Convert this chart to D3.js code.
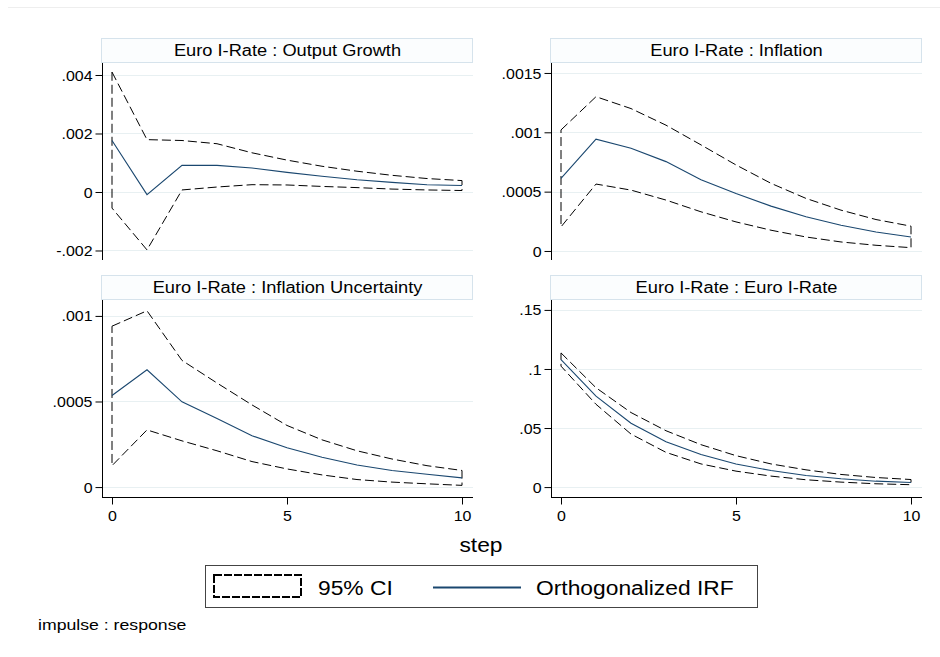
<!DOCTYPE html>
<html><head><meta charset="utf-8">
<script src="https://cdn.jsdelivr.net/npm/d3@7"></script>
<style>body{margin:0;background:#fff}svg{display:block;font-family:"Liberation Sans",Arial,sans-serif}</style>
</head><body><div id="chart"></div>
<script>
const steps = [0,1,2,3,4,5,6,7,8,9,10];
const xTicks = [0,5,10];

const titles = ["Euro I-Rate : Output Growth","Euro I-Rate : Inflation","Euro I-Rate : Inflation Uncertainty","Euro I-Rate : Euro I-Rate"];

const irfOutput = [0.00176,-0.00009,0.00091,0.00091,0.00082,0.00067,0.00054,0.00042,0.00033,0.00025,0.00022];
const upOutput  = [0.0041,0.00179,0.00176,0.00165,0.00134,0.00109,0.00088,0.00071,0.00057,0.00046,0.00039];
const loOutput  = [-0.00055,-0.00198,0.00007,0.00017,0.00025,0.00024,0.00019,0.00015,0.00010,0.00007,0.00005];

const irfInfl = [0.000612,0.000942,0.000866,0.000753,0.0006,0.000485,0.000378,0.000288,0.000217,0.00016,0.000118];
const upInfl  = [0.00102,0.0013,0.0012,0.00106,0.000894,0.000725,0.00057,0.000443,0.000344,0.000265,0.000209];
const loInfl  = [0.000203,0.000564,0.000513,0.000429,0.00033,0.000245,0.000175,0.000118,0.000076,0.000048,0.000028];

const irfUnc = [0.000535,0.000685,0.000498,0.0004,0.0003,0.00023,0.000174,0.000129,0.000097,0.000075,0.000054];
const upUnc  = [0.00094,0.00103,0.00074,0.000608,0.00048,0.00036,0.000276,0.000212,0.000164,0.000125,0.000097];
const loUnc  = [0.000125,0.000334,0.00027,0.000212,0.000149,0.000106,0.000071,0.000044,0.000029,0.000019,0.00001];

const irfRate = [0.108,0.077,0.054,0.0384,0.0275,0.0196,0.014,0.0098,0.007,0.005,0.0039];
const upRate  = [0.1136,0.0841,0.0631,0.0477,0.0359,0.0266,0.0196,0.0146,0.0107,0.0081,0.0064];
const loRate  = [0.1024,0.0701,0.0449,0.0294,0.0196,0.0135,0.0093,0.0062,0.0042,0.0028,0.002];

const yTicksOutput = [-0.002,0,0.002,0.004];
const yLabelsOutput = ["-.002","0",".002",".004"];
const yTicksInfl = [0,0.0005,0.001,0.0015];
const yLabelsInfl = ["0",".0005",".001",".0015"];
const yTicksUnc = [0,0.0005,0.001];
const yLabelsUnc = ["0",".0005",".001"];
const yTicksRate = [0,0.05,0.1,0.15];
const yLabelsRate = ["0",".05",".1",".15"];

const legendLabels = ["95% CI","Orthogonalized IRF"];
const xTitle = "step";
const note = "impulse : response";

const W = 940, H = 657;
const FONT = "Liberation Sans, Arial, sans-serif";
const svg = d3.select("#chart").append("svg").attr("width",W).attr("height",H);
svg.append("rect").attr("width",W).attr("height",H).attr("fill","#fff");
svg.append("line").attr("x1",8).attr("x2",W).attr("y1",7.5).attr("y2",7.5).attr("stroke","#eeeeee");

// horizontally widen text (reference glyphs are wider than Arial at same height)
function stretch(sel, f) {
  sel.each(function() {
    const len = this.getComputedTextLength();
    d3.select(this).attr("textLength", len*f).attr("lengthAdjust","spacingAndGlyphs");
  });
}

const panels = [
  {title:titles[0], irf:irfOutput, up:upOutput, lo:loOutput, ticks:yTicksOutput, labels:yLabelsOutput, dom:[-0.002325,0.00441], left:102, top:38, xaxis:false},
  {title:titles[1], irf:irfInfl, up:upInfl, lo:loInfl, ticks:yTicksInfl, labels:yLabelsInfl, dom:[-0.000076,0.001584], left:551, top:38, xaxis:false},
  {title:titles[2], irf:irfUnc, up:upUnc, lo:loUnc, ticks:yTicksUnc, labels:yLabelsUnc, dom:[-0.000058,0.001093], left:102, top:275, xaxis:true},
  {title:titles[3], irf:irfRate, up:upRate, lo:loRate, ticks:yTicksRate, labels:yLabelsRate, dom:[-0.0084,0.1584], left:551, top:275, xaxis:true}
];
const pw = 371, titleH = 24, ph = 197;
const navy = "#1a476f";

panels.forEach(p => {
  const g = svg.append("g");
  const x0 = p.left, y0 = p.top + titleH + 1, y1 = y0 + ph;
  g.append("rect").attr("x",x0-0.5).attr("y",p.top+0.5).attr("width",pw).attr("height",titleH)
    .attr("fill","#fbfdfe").attr("stroke","#d6e3ec");
  const t = g.append("text").attr("x",x0+pw/2).attr("y",p.top+18).attr("text-anchor","middle")
    .attr("font-size",16).attr("fill","#000").text(p.title);
  stretch(t, 1.14);
  const x = d3.scaleLinear().domain([0,10]).range([x0+10, x0+360]);
  const y = d3.scaleLinear().domain(p.dom).range([y1, y0]);
  // gridlines
  g.selectAll(".grid").data(p.ticks).join("line")
    .attr("x1",x0).attr("x2",x0+pw).attr("y1",d=>Math.round(y(d))+0.5).attr("y2",d=>Math.round(y(d))+0.5)
    .attr("stroke","#e8f0f2").attr("stroke-width",1);
  // y axis
  const ya = d3.axisLeft(y).tickValues(p.ticks).tickFormat((d,i)=>p.labels[i]).tickSize(7).tickPadding(3);
  const ag = g.append("g").attr("transform",`translate(${x0+0.5},0)`).call(ya);
  ag.select(".domain").attr("d",`M0,${y0}V${y1}`).attr("stroke","#000");
  ag.selectAll("text").attr("font-size",14.5).attr("fill","#000").attr("font-family",FONT).attr("dy","0.35em");
  stretch(ag.selectAll("text"), 1.1);
  ag.selectAll(".tick line").attr("stroke","#000");
  if (p.xaxis) {
    const xa = d3.axisBottom(x).tickValues(xTicks).tickSize(7).tickPadding(6);
    const xg = g.append("g").attr("transform",`translate(0,${y1+0.5})`).call(xa);
    xg.select(".domain").attr("d",`M${x0},0H${x0+pw}`).attr("stroke","#000");
    xg.selectAll("text").attr("font-size",14.5).attr("fill","#000").attr("font-family",FONT);
    stretch(xg.selectAll("text"), 1.1);
    xg.selectAll(".tick line").attr("stroke","#000");
  }
  // CI polygon (upper forward, lower backward)
  const pts = steps.map((s,i)=>[x(s),y(p.up[i])]).concat(steps.slice().reverse().map(s=>[x(s),y(p.lo[s])]));
  g.append("path").attr("d",d3.line()(pts)+"Z").attr("fill","none").attr("stroke","#000")
    .attr("stroke-width",1).attr("stroke-dasharray","9,4");
  g.append("path").attr("d",d3.line().x((d,i)=>x(steps[i])).y(d=>y(d))(p.irf))
    .attr("fill","none").attr("stroke",navy).attr("stroke-width",1.1);
});

stretch(svg.append("text").attr("x",481).attr("y",552).attr("text-anchor","middle").attr("font-size",20).attr("fill","#000").text(xTitle), 1.14);

// legend
const lg = svg.append("g");
lg.append("rect").attr("x",205.5).attr("y",565.5).attr("width",552).attr("height",42).attr("fill","#fff").attr("stroke","#444").attr("stroke-width",1);
lg.append("rect").attr("x",214).attr("y",575).attr("width",87).attr("height",22).attr("fill","#fff").attr("stroke","#000").attr("stroke-width",2).attr("stroke-dasharray","8,2");
stretch(lg.append("text").attr("x",318).attr("y",595).attr("font-size",20).attr("fill","#000").text(legendLabels[0]), 1.14);
lg.append("line").attr("x1",433).attr("x2",521).attr("y1",587.5).attr("y2",587.5).attr("stroke",navy).attr("stroke-width",2);
stretch(lg.append("text").attr("x",536).attr("y",595).attr("font-size",20).attr("fill","#000").text(legendLabels[1]), 1.14);

stretch(svg.append("text").attr("x",38).attr("y",630).attr("font-size",15.5).attr("fill","#000").text(note), 1.14);
</script></body></html>
